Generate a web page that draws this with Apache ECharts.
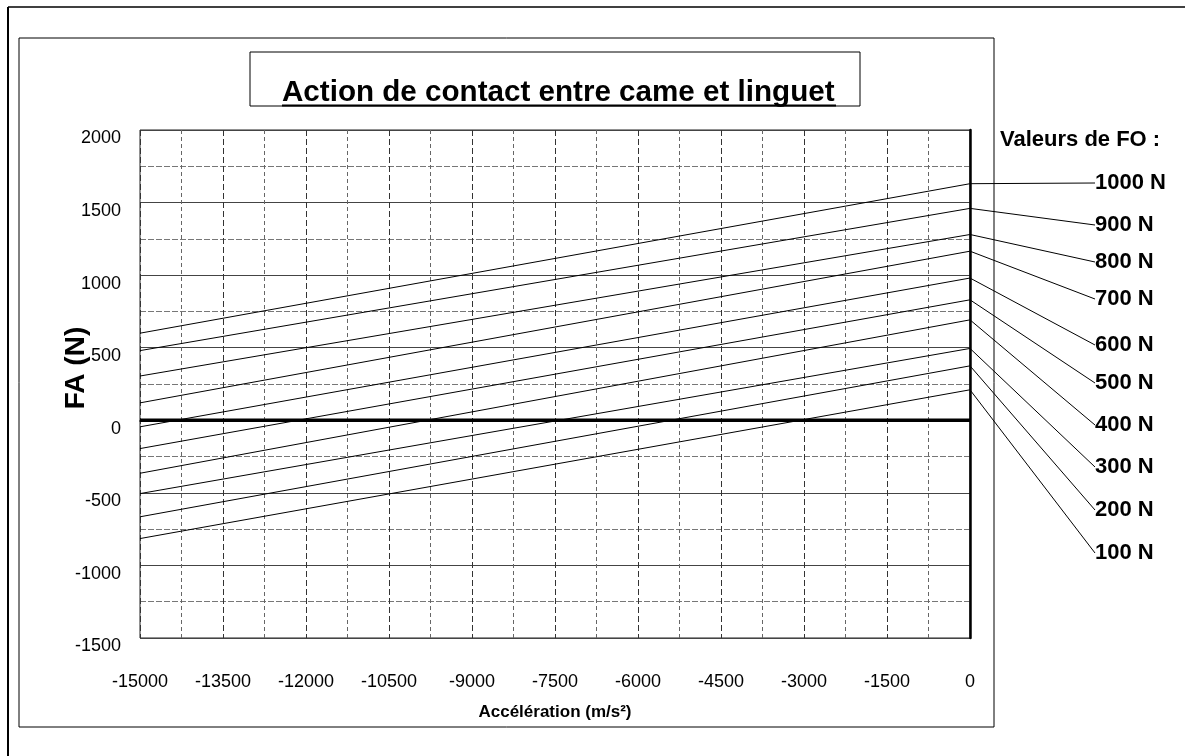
<!DOCTYPE html>
<html>
<head>
<meta charset="utf-8">
<script src="https://cdn.jsdelivr.net/npm/echarts@6/dist/echarts.min.js"></script>
<style>
html,body{margin:0;padding:0;background:#fff;}
#c{width:1185px;height:756px;}
</style>
</head>
<body>
<div id="c"></div>
<script>
// ---- data ----
const accel = [-15000, 0];               // Accélération (m/s²)
const foNames = ['1000 N','900 N','800 N','700 N','600 N','500 N','400 N','300 N','200 N','100 N'];
const fo1000 = [600, 1630];
const fo900  = [480, 1460];
const fo800  = [305, 1280];
const fo700  = [120, 1165];
const fo600  = [-45, 980];
const fo500  = [-195, 830];
const fo400  = [-365, 692];
const fo300  = [-505, 495];
const fo200  = [-665, 375];
const fo100  = [-815, 210];
const zeroLine = [0, 0];
const foValues = [fo1000, fo900, fo800, fo700, fo600, fo500, fo400, fo300, fo200, fo100];

// ---- layout (label positions for the right-hand legend) ----
const labelX = 1095;
const labelY = [183, 225, 262, 299, 345, 383, 425, 467, 510, 553];

const FONT = "'Liberation Sans', Arial, sans-serif";
const chart = echarts.init(document.getElementById('c'));

const series = foValues.map((vals, i) => ({
  name: foNames[i],
  type: 'line',
  symbol: 'circle',
  symbolSize: 0.1,
  itemStyle: {color: '#000'},
  lineStyle: {color: '#000', width: 1},
  animation: false,
  z: 3,
  data: [
    [accel[0], vals[0]],
    {value: [accel[1], vals[1]],
     label: {show: true, formatter: foNames[i], fontFamily: FONT, fontSize: 22, fontWeight: 'bold', color: '#000'}}
  ],
  labelLine: {show: true, lineStyle: {color: '#000', width: 1}},
  labelLayout: function () {
    return {x: labelX, y: labelY[i], align: 'left', verticalAlign: 'middle', moveOverlap: false};
  }
}));

series.push({
  name: 'zero',
  type: 'line',
  symbol: 'none',
  lineStyle: {color: '#000', width: 3.5},
  animation: false,
  z: 4,
  data: accel.map((a, k) => [a, zeroLine[k]])
});

chart.setOption({
  backgroundColor: '#fff',
  animation: false,
  textStyle: {fontFamily: FONT},
  grid: {left: 140, right: 215, top: 130, bottom: 118, show: true, borderColor: '#222', borderWidth: 1},
  xAxis: {
    type: 'value', min: -15000, max: 0, interval: 1500,
    name: 'Accélération (m/s²)', nameLocation: 'middle', nameGap: 66, nameMoveOverlap: false,
    nameTextStyle: {fontFamily: FONT, fontSize: 17, fontWeight: 'bold', color: '#000'},
    axisLine: {show: true, lineStyle: {color: '#000', width: 1.5}},
    axisTick: {show: false},
    axisLabel: {color: '#000', fontSize: 18, fontFamily: FONT, margin: 35, formatter: v => String(v)},
    splitLine: {show: true, lineStyle: {color: '#333', width: 1, type: [6, 3]}},
    minorTick: {show: false, splitNumber: 2},
    minorSplitLine: {show: true, lineStyle: {color: '#666', width: 1, type: [4, 3]}}
  },
  yAxis: [{
    type: 'value', min: -1500, max: 2000, interval: 500,
    name: 'FA (N)', nameLocation: 'middle', nameGap: 50, nameMoveOverlap: false,
    nameTextStyle: {fontFamily: FONT, fontSize: 28, fontWeight: 'bold', color: '#000', padding: [0, 0, 0, 32]},
    axisLine: {show: true, lineStyle: {color: '#444', width: 1, type: [5, 2]}},
    axisTick: {show: false},
    axisLabel: {color: '#000', fontSize: 18, fontFamily: FONT, margin: 19, verticalAlign: 'top', lineHeight: 17, formatter: v => String(v)},
    splitLine: {show: true, lineStyle: {color: '#444', width: 1}},
    minorTick: {show: false, splitNumber: 2},
    minorSplitLine: {show: true, lineStyle: {color: '#777', width: 1, type: [6, 2]}}
  }, {
    type: 'value', min: -1500, max: 2000, interval: 500, position: 'right',
    axisLine: {show: true, lineStyle: {color: '#000', width: 2.5}},
    axisTick: {show: false}, axisLabel: {show: false}, splitLine: {show: false}
  }],
  graphic: [
    {type: 'line', shape: {x1: 8, y1: 7, x2: 1185, y2: 7}, style: {stroke: '#000', lineWidth: 1.5}},
    {type: 'line', shape: {x1: 8, y1: 7, x2: 8, y2: 756}, style: {stroke: '#000', lineWidth: 2}},
    {type: 'rect', shape: {x: 19, y: 38, width: 975, height: 689}, style: {fill: null, stroke: '#000', lineWidth: 1}, z: -1},
    {type: 'rect', shape: {x: 250, y: 52, width: 610, height: 54}, style: {fill: null, stroke: '#000', lineWidth: 1}},
    {type: 'line', shape: {x1: 282, y1: 105.5, x2: 836, y2: 105.5}, style: {stroke: '#000', lineWidth: 2}},
    {type: 'text', left: 282, top: 78,
     style: {text: 'Action de contact entre came et linguet', font: "bold 29.6px 'Liberation Sans', Arial, sans-serif", fill: '#000'}},
    {type: 'text', left: 1000, top: 129,
     style: {text: 'Valeurs de FO :', font: "bold 22px 'Liberation Sans', Arial, sans-serif", fill: '#000'}}
  ],
  series: series
});
</script>
</body>
</html>
